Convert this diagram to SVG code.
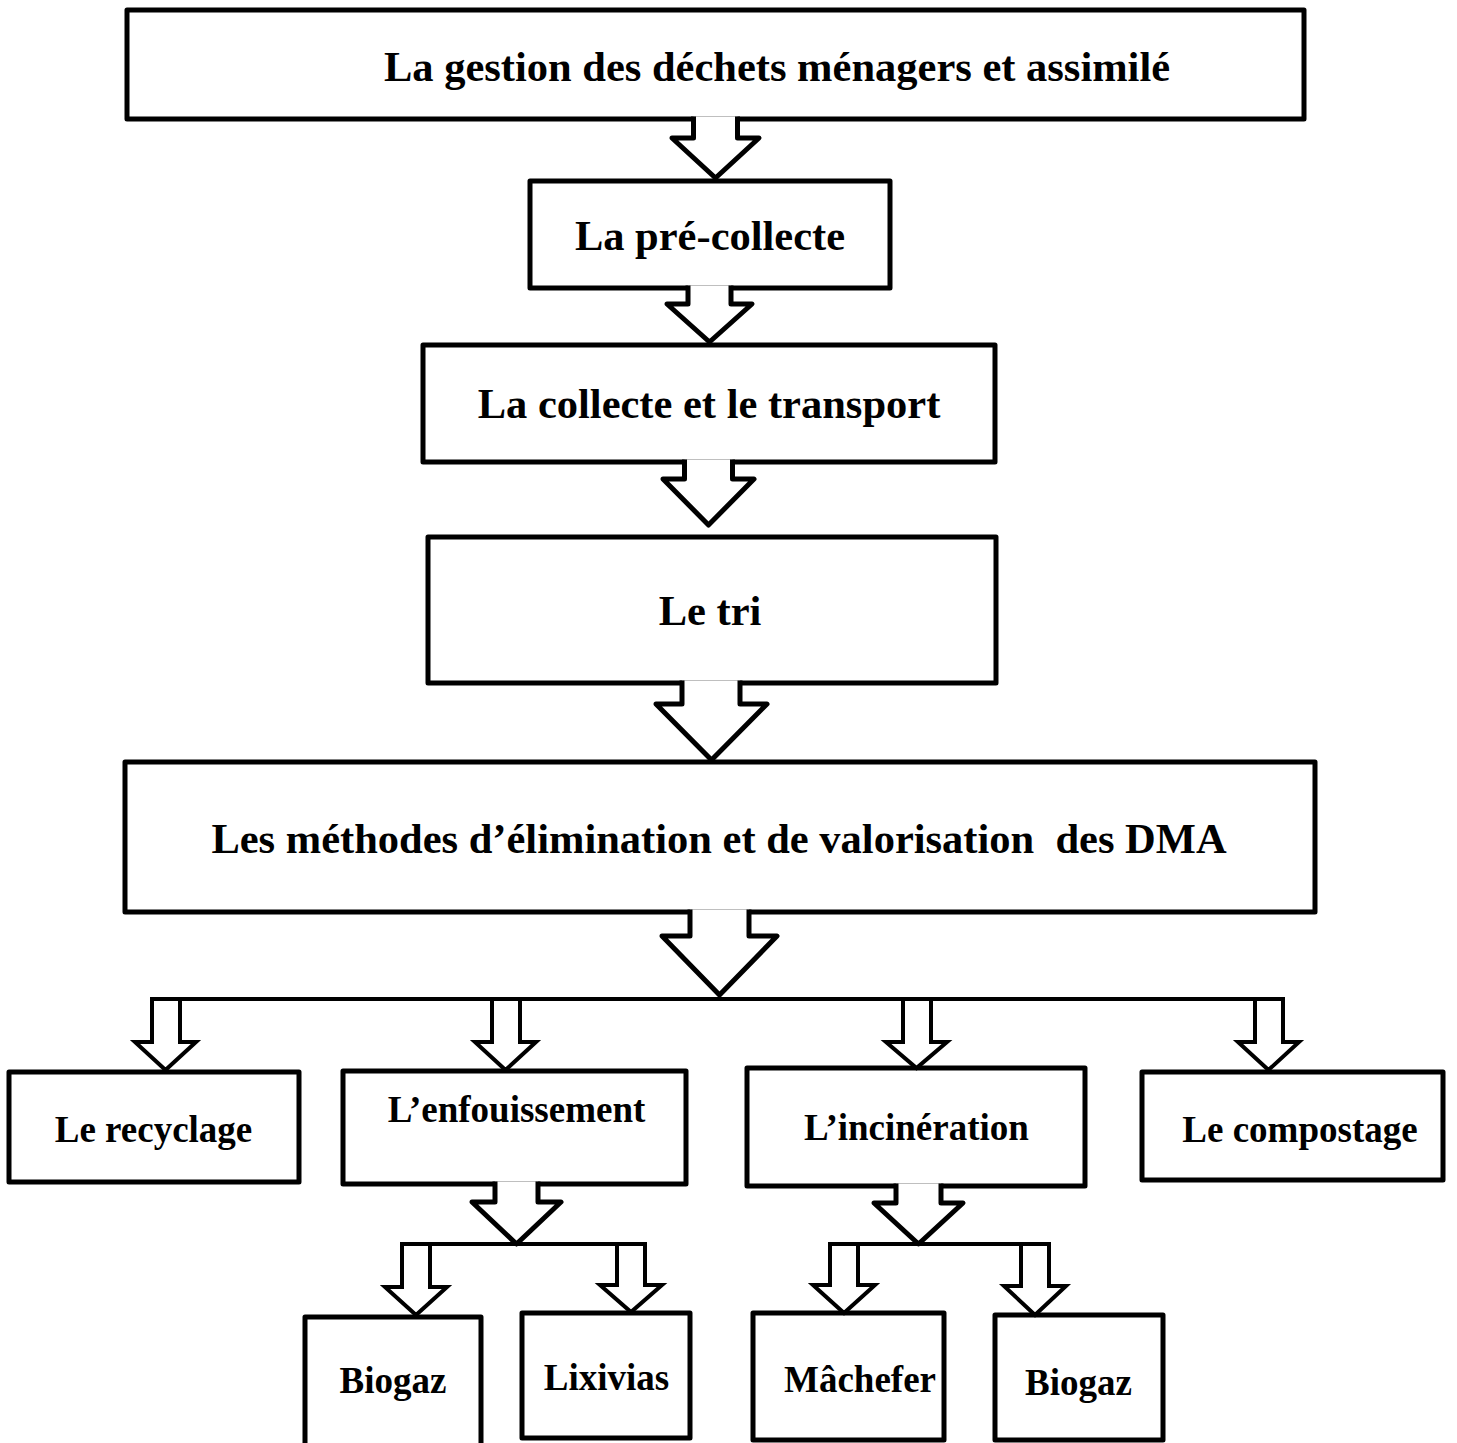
<svg xmlns="http://www.w3.org/2000/svg" width="1457" height="1443" viewBox="0 0 1457 1443">
  <style>
    .box { fill: #fff; stroke: #000; stroke-width: 5; stroke-linejoin: round; }
    .big { fill: #fff; stroke: #000; stroke-width: 5; stroke-linejoin: round; }
    .small { fill: #fff; stroke: #000; stroke-width: 4; stroke-linejoin: miter; }
    .bar { stroke: #000; stroke-width: 4; fill: none; }
    .t1 { font-family: "Liberation Serif", "Times New Roman", serif; font-weight: bold; font-size: 42.5px; fill: #000; text-anchor: middle; }
    .t2 { font-family: "Liberation Serif", "Times New Roman", serif; font-weight: bold; font-size: 37px; fill: #000; text-anchor: middle; }
  </style>
  <rect width="1457" height="1443" fill="#fff"/>

  <!-- main chain -->
  <g id="node-gestion">
    <rect class="box" x="127" y="10" width="1177" height="109"/>
    <text class="t1" x="777" y="81">La gestion des déchets ménagers et assimilé</text>
  </g>
  <g id="node-precollecte">
    <rect class="box" x="530" y="181" width="360" height="107"/>
    <text class="t1" x="710" y="250">La pré-collecte</text>
  </g>
  <g id="node-collecte">
    <rect class="box" x="423" y="345" width="572" height="117"/>
    <text class="t1" x="709" y="418">La collecte et le transport</text>
  </g>
  <g id="node-tri">
    <rect class="box" x="428" y="537" width="568" height="146"/>
    <text class="t1" x="710" y="625">Le tri</text>
  </g>
  <g id="node-methodes">
    <rect class="box" x="125" y="762" width="1190" height="150"/>
    <text class="t1" x="719" y="853" xml:space="preserve">Les méthodes d’élimination et de valorisation  des DMA</text>
  </g>

  <!-- methods -->
  <g id="node-recyclage">
    <rect class="box" x="9" y="1072" width="290" height="110"/>
    <text class="t2" x="153.5" y="1142">Le recyclage</text>
  </g>
  <g id="node-enfouissement">
    <rect class="box" x="343" y="1071" width="343" height="113"/>
    <text class="t2" x="516.5" y="1122">L’enfouissement</text>
  </g>
  <g id="node-incineration">
    <rect class="box" x="747" y="1068" width="338" height="118"/>
    <text class="t2" x="916.5" y="1140">L’incinération</text>
  </g>
  <g id="node-compostage">
    <rect class="box" x="1142" y="1072" width="301" height="108"/>
    <text class="t2" x="1300" y="1142">Le compostage</text>
  </g>

  <!-- by-products -->
  <g id="node-biogaz-1">
    <rect class="box" x="305" y="1317" width="176" height="130"/>
    <text class="t2" x="393" y="1393">Biogaz</text>
  </g>
  <g id="node-lixivias">
    <rect class="box" x="522" y="1313" width="168" height="125"/>
    <text class="t2" x="606.5" y="1390">Lixivias</text>
  </g>
  <g id="node-machefer">
    <rect class="box" x="753" y="1313" width="191" height="127"/>
    <text class="t2" x="860" y="1392">Mâchefer</text>
  </g>
  <g id="node-biogaz-2">
    <rect class="box" x="995" y="1315" width="168" height="125"/>
    <text class="t2" x="1078.5" y="1395">Biogaz</text>
  </g>

  <!-- connectors -->
  <g id="connectors">
    <!-- hollow block arrows opening out of the box above -->
    <polyline class="big" points="693.5,116.5 693.5,138 672,138 715.5,178 759,138 737.5,138 737.5,116.5"/>
    <polyline class="big" points="688,285.5 688,304 667,304 709.5,342 752,304 731,304 731,285.5"/>
    <polyline class="big" points="684.5,459.5 684.5,479 663,479 708.5,525 754,479 732.5,479 732.5,459.5"/>
    <polyline class="big" points="682,680.5 682,704 656,704 711.5,760 767,704 740,704 740,680.5"/>
    <polyline class="big" points="690,909.5 690,936 662,936 719.5,995 777,936 749,936 749,909.5"/>

    <!-- distribution bar to the four methods -->
    <line class="bar" x1="152" y1="999" x2="1283" y2="999"/>
    <polygon class="small" points="152,999 152,1042 135,1042 165.5,1070 196,1042 180,1042 180,999"/>
    <polygon class="small" points="492,999 492,1042 475,1042 505.5,1070 536,1042 520,1042 520,999"/>
    <polygon class="small" points="903,999 903,1042 886,1042 916.5,1068 947,1042 931,1042 931,999"/>
    <polygon class="small" points="1255,999 1255,1042 1238,1042 1268.5,1070 1299,1042 1283,1042 1283,999"/>

    <!-- landfill branch -->
    <polyline class="big" points="495,1181.5 495,1202 472,1202 516.5,1244 561,1202 538,1202 538,1181.5"/>
    <line class="bar" x1="402" y1="1244" x2="645" y2="1244"/>
    <polygon class="small" points="402,1244 402,1287 385,1287 416,1315 447,1287 430,1287 430,1244"/>
    <polygon class="small" points="617,1244 617,1285 600,1285 631,1312 662,1285 645,1285 645,1244"/>

    <!-- incineration branch -->
    <polyline class="big" points="896,1183.5 896,1203 874,1203 918.5,1244 963,1203 941,1203 941,1183.5"/>
    <line class="bar" x1="830" y1="1244" x2="1049" y2="1244"/>
    <polygon class="small" points="830,1244 830,1285 813,1285 844,1313 875,1285 858,1285 858,1244"/>
    <polygon class="small" points="1021,1244 1021,1286 1004,1286 1035,1315 1066,1286 1049,1286 1049,1244"/>
  </g>
</svg>
